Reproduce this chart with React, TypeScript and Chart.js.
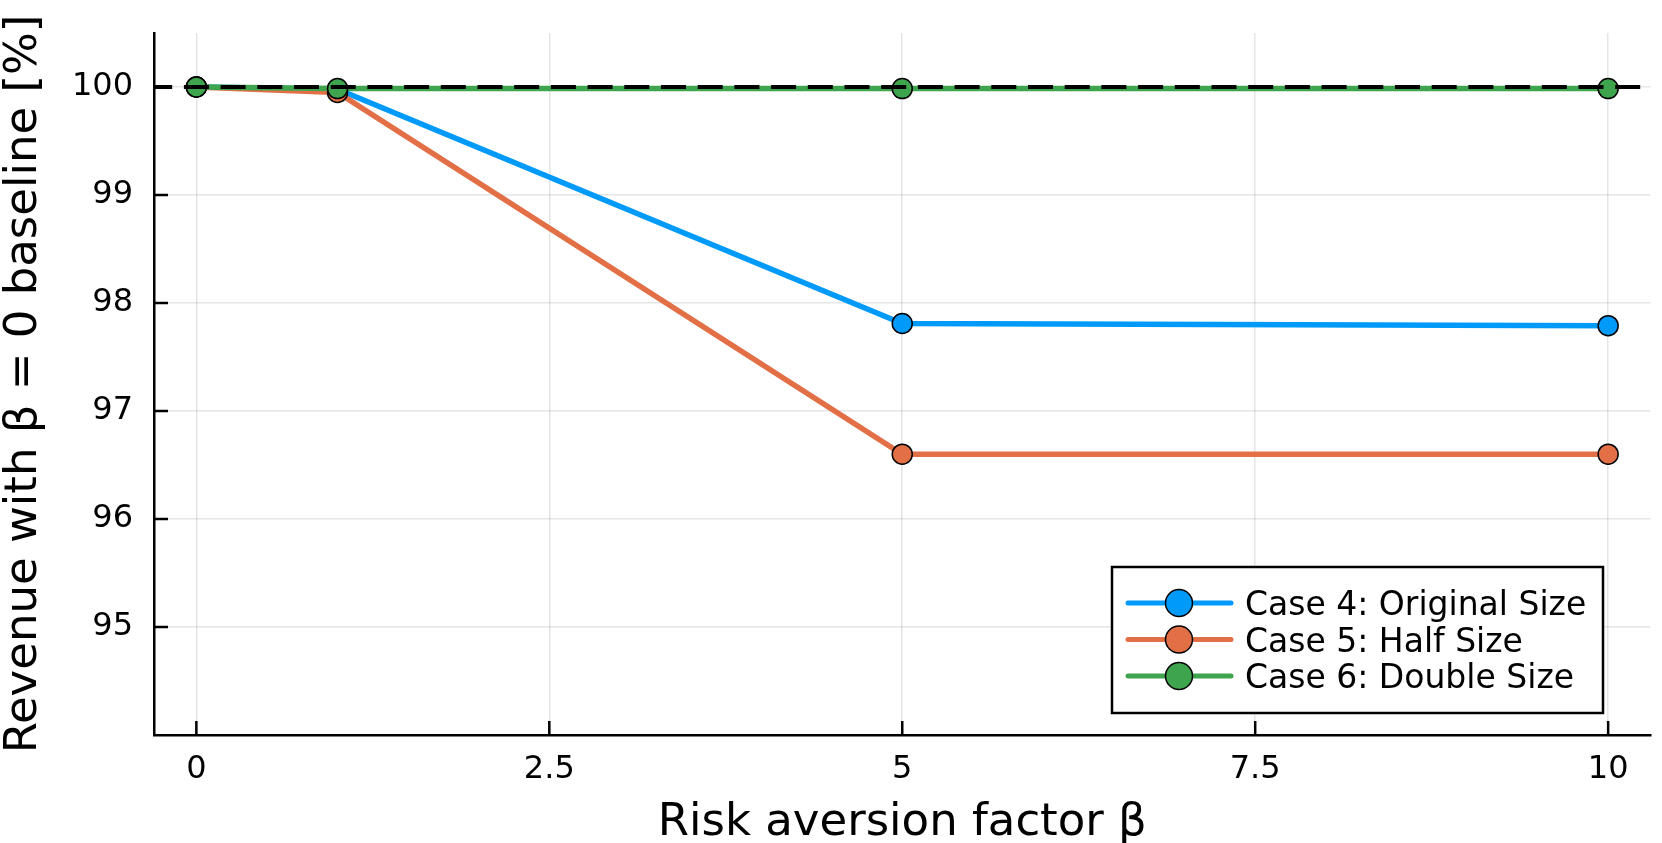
import React, { useEffect, useRef } from 'react';
import { Chart, registerables } from 'chart.js';

Chart.register(...registerables);

// ---- data ----
const betaValues = [0, 1, 5, 10];
const case4Values = [100, 99.98, 97.81, 97.79];
const case5Values = [100, 99.95, 96.6, 96.6];
const case6Values = [100, 99.985, 99.985, 99.985];
const seriesLabels = ['Case 4: Original Size', 'Case 5: Half Size', 'Case 6: Double Size'];
const seriesColors = ['#009AFA', '#E26F46', '#3EA44E'];
const xTickValues = [0, 2.5, 5, 7.5, 10];
const yTickValues = [95, 96, 97, 98, 99, 100];
const baselineValue = 100;
const xLimits = [-0.3, 10.3];
const yLimits = [94, 100.5];
const xTitle = 'Risk aversion factor β';
const yTitle = 'Revenue with β = 0 baseline [%]';

const FONT = "'DejaVu Sans', sans-serif";
const W = 1662;
const H = 843;

const decorPlugin = {
  id: 'decor',
  beforeDatasetsDraw(chart: any) {
    const { ctx, chartArea: a, scales } = chart;
    const x = scales.x;
    const y = scales.y;
    ctx.save();
    ctx.strokeStyle = '#000';
    ctx.lineWidth = 2.5;
    ctx.beginPath();
    for (const v of xTickValues) {
      const px = x.getPixelForValue(v);
      ctx.moveTo(px, a.bottom);
      ctx.lineTo(px, a.bottom - 14);
    }
    for (const v of yTickValues) {
      const py = y.getPixelForValue(v);
      ctx.moveTo(a.left, py);
      ctx.lineTo(a.left + 14, py);
    }
    ctx.stroke();
    ctx.restore();
  },
  afterDraw(chart: any) {
    const { ctx, chartArea: a } = chart;
    ctx.save();
    ctx.fillStyle = '#000';
    // axis titles
    ctx.font = `45px ${FONT}`;
    ctx.textAlign = 'center';
    ctx.textBaseline = 'alphabetic';
    ctx.fillText(xTitle, (a.left + a.right) / 2, 835);
    ctx.save();
    ctx.translate(36, (a.top + a.bottom) / 2);
    ctx.rotate(-Math.PI / 2);
    ctx.fillText(yTitle, 0, 0);
    ctx.restore();

    // legend
    const bx = 1112, by = 567, bw = 491, bh = 146;
    ctx.fillStyle = '#fff';
    ctx.fillRect(bx, by, bw, bh);
    ctx.strokeStyle = '#000';
    ctx.lineWidth = 2.5;
    ctx.strokeRect(bx, by, bw, bh);
    const rows = [603, 639.5, 676];
    ctx.font = `33px ${FONT}`;
    ctx.textAlign = 'left';
    seriesLabels.forEach((lab, i) => {
      const ry = rows[i];
      ctx.strokeStyle = seriesColors[i];
      ctx.lineWidth = 5;
      ctx.lineCap = 'round';
      ctx.beginPath();
      ctx.moveTo(1128, ry);
      ctx.lineTo(1231, ry);
      ctx.stroke();
      ctx.beginPath();
      ctx.arc(1179, ry, 13.5, 0, Math.PI * 2);
      ctx.fillStyle = seriesColors[i];
      ctx.fill();
      ctx.lineWidth = 1.5;
      ctx.strokeStyle = '#000';
      ctx.stroke();
      ctx.fillStyle = '#000';
      ctx.fillText(lab, 1245, ry + 12);
    });
    ctx.restore();
  },
};

export default function App() {
  const ref = useRef<HTMLCanvasElement | null>(null);

  useEffect(() => {
    if (!ref.current) return;
    const mk = (vals: number[], i: number, order: number) => ({
      label: seriesLabels[i],
      data: betaValues.map((b, k) => ({ x: b, y: vals[k] })),
      borderColor: seriesColors[i],
      backgroundColor: seriesColors[i],
      borderWidth: 5.5,
      pointRadius: 10,
      pointBorderWidth: 1.5,
      pointBorderColor: '#000',
      pointBackgroundColor: seriesColors[i],
      tension: 0,
      order,
    });
    const chart = new Chart(ref.current, {
      type: 'line',
      data: {
        datasets: [
          {
            label: 'baseline',
            data: [
              { x: xLimits[0], y: baselineValue },
              { x: xLimits[1], y: baselineValue },
            ],
            borderColor: '#000',
            borderWidth: 4,
            borderDash: [25, 11.7],
            borderDashOffset: 6.8,
            pointRadius: 0,
            order: 0,
          } as any,
          mk(case6Values, 2, 1),
          mk(case5Values, 1, 2),
          mk(case4Values, 0, 3),
        ],
      },
      options: {
        responsive: false,
        animation: false,
        devicePixelRatio: 1,
        layout: { padding: { top: 33, right: 8, left: 0, bottom: 0 } },
        plugins: {
          legend: { display: false },
          tooltip: { enabled: false },
        },
        scales: {
          x: {
            type: 'linear',
            min: xLimits[0],
            max: xLimits[1],
            afterBuildTicks: (s: any) => {
              s.ticks = xTickValues.map((v) => ({ value: v }));
            },
            afterFit: (s: any) => {
              s.height = 108;
              s.paddingLeft = 0;
              s.paddingRight = 0;
            },
            ticks: {
              callback: (v: any) => String(v),
              font: { family: FONT, size: 32 },
              color: '#000',
              padding: 15,
              maxRotation: 0,
              autoSkip: false,
            },
            grid: { color: 'rgba(0,0,0,0.1)', lineWidth: 1.5, drawTicks: false },
            border: { display: true, color: '#000', width: 2.5 },
          },
          y: {
            type: 'linear',
            min: yLimits[0],
            max: yLimits[1],
            afterBuildTicks: (s: any) => {
              s.ticks = yTickValues.map((v) => ({ value: v }));
            },
            afterFit: (s: any) => {
              s.width = 154;
              s.paddingTop = 0;
              s.paddingBottom = 0;
            },
            ticks: {
              callback: (v: any) => String(v),
              font: { family: FONT, size: 32 },
              color: '#000',
              padding: 21,
              autoSkip: false,
            },
            grid: { color: 'rgba(0,0,0,0.1)', lineWidth: 1.5, drawTicks: false },
            border: { display: true, color: '#000', width: 2.5 },
          },
        },
      },
      plugins: [decorPlugin],
    });
    return () => chart.destroy();
  }, []);

  return (
    <div style={{ position: 'absolute', left: 0, top: 0, width: W, height: H, background: '#fff' }}>
      <canvas ref={ref} width={W} height={H} style={{ width: W, height: H, display: 'block' }} />
    </div>
  );
}
